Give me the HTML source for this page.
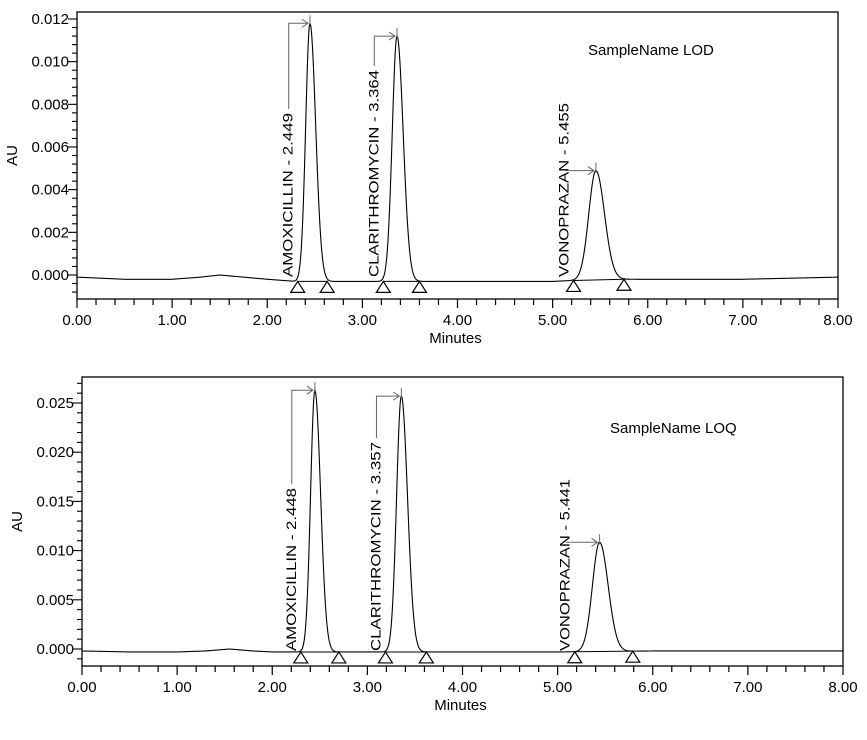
<!DOCTYPE html>
<html><head><meta charset="utf-8"><style>
html,body{margin:0;padding:0;background:#fff;}
svg{display:block;font-family:"Liberation Sans",Arial,sans-serif;}
</style></head><body>
<svg id="svg" width="867" height="740" viewBox="0 0 867 740"></svg>
<script>
// ---- Data: top chart (LOD) ----
const lodPeakNames = ["AMOXICILLIN - 2.449", "CLARITHROMYCIN - 3.364", "VONOPRAZAN - 5.455"];
const lodPeakTimes = [2.449, 3.364, 5.455];
const lodPeakHeights = [0.0121, 0.0115, 0.0051];
const lodPeakSigmaL = [0.045, 0.05, 0.075];
const lodPeakSigmaR = [0.06, 0.065, 0.09];
const lodPeakStart = [2.32, 3.22, 5.22];
const lodPeakEnd = [2.63, 3.60, 5.75];
const lodBaseTimes = [0, 0.5, 1.0, 1.3, 1.5, 1.75, 2.0, 2.3, 3.0, 3.5, 4.0, 4.5, 5.0, 5.5, 6.0, 7.0, 8.0];
const lodBaseValues = [-0.0001, -0.0002, -0.0002, -0.0001, 0.0, -0.0001, -0.0002, -0.0003, -0.0003, -0.0003, -0.0003, -0.0003, -0.0003, -0.0002, -0.0002, -0.0002, -0.0001];
const lodYTicks = [0.000, 0.002, 0.004, 0.006, 0.008, 0.010, 0.012];
const lodYTickLabels = ["0.000", "0.002", "0.004", "0.006", "0.008", "0.010", "0.012"];
// ---- Data: bottom chart (LOQ) ----
const loqPeakNames = ["AMOXICILLIN - 2.448", "CLARITHROMYCIN - 3.357", "VONOPRAZAN - 5.441"];
const loqPeakTimes = [2.448, 3.357, 5.441];
const loqPeakHeights = [0.0266, 0.0260, 0.0111];
const loqPeakSigmaL = [0.045, 0.05, 0.075];
const loqPeakSigmaR = [0.06, 0.065, 0.09];
const loqPeakStart = [2.30, 3.19, 5.18];
const loqPeakEnd = [2.70, 3.62, 5.79];
const loqBaseTimes = [0, 0.5, 1.0, 1.3, 1.55, 1.8, 2.0, 3.0, 4.0, 5.0, 6.0, 7.0, 8.0];
const loqBaseValues = [-0.0002, -0.0003, -0.0003, -0.0002, 0.0, -0.0002, -0.0003, -0.0003, -0.0003, -0.0003, -0.0002, -0.0002, -0.0002];
const loqYTicks = [0.000, 0.005, 0.010, 0.015, 0.020, 0.025];
const loqYTickLabels = ["0.000", "0.005", "0.010", "0.015", "0.020", "0.025"];
const xTicks = [0, 1, 2, 3, 4, 5, 6, 7, 8];
const xTickLabels = ["0.00", "1.00", "2.00", "3.00", "4.00", "5.00", "6.00", "7.00", "8.00"];

const NS = "http://www.w3.org/2000/svg";
const svg = document.getElementById("svg");
function mk(tag, attrs, parent) {
  const e = document.createElementNS(NS, tag);
  for (const k in attrs) e.setAttribute(k, attrs[k]);
  (parent || svg).appendChild(e);
  return e;
}
function interp(ts, vs, t) {
  if (t <= ts[0]) return vs[0];
  for (let i = 1; i < ts.length; i++) if (t <= ts[i]) {
    const f = (t - ts[i-1]) / (ts[i] - ts[i-1]);
    return vs[i-1] + f * (vs[i] - vs[i-1]);
  }
  return vs[vs.length-1];
}

function drawChart(c) {
  const g = mk("g", {});
  
  
  const xS = t => c.x0 + (t / 8) * (c.x1 - c.x0);
  const yS = v => c.yZero - v * c.pxPerUnit;
  const fr = mk("rect", {x: c.x0, y: c.top, width: c.x1 - c.x0, height: c.bottom - c.top, fill: "none", stroke: "#000", "stroke-width": 1.3}, g);
  
  
  for (let m = 0; m <= 40; m++) {
    const t = m * 0.2, x = xS(t), major = m % 5 === 0;
    mk("line", {x1: x, x2: x, y1: c.bottom, y2: c.bottom + (major ? 9 : 6), stroke: "#000", "stroke-width": 1.2}, g);
  }
  xTicks.forEach((t, i) => {
    const tx = mk("text", {x: xS(t), y: c.bottom + 26, "text-anchor": "middle", "font-size": 15}, g);
    tx.textContent = xTickLabels[i];
    
    
  });
  const step = c.yTicks[1] - c.yTicks[0], minor = step / 5;
  const vmin = (c.yZero - c.bottom) / c.pxPerUnit, vmax = (c.yZero - c.top) / c.pxPerUnit;
  for (let k = Math.ceil(vmin / minor); k * minor <= vmax; k++) {
    const y = yS(k * minor);
    const maj = Math.abs(Math.round(k) % 5) === 0;
    mk("line", {x1: c.x0 - (maj ? 9 : 5), x2: c.x0, y1: y, y2: y, stroke: "#000", "stroke-width": 1.1}, g);
  }
  c.yTicks.forEach((v, i) => {
    const tx = mk("text", {x: c.x0 - 8, y: yS(v) + 5, "text-anchor": "end", "font-size": 15}, g);
    tx.textContent = c.yLabels[i];
    
    
  });
  const yt = mk("text", {x: 0, y: 0, "text-anchor": "middle", "font-size": 15, transform: `translate(${c.x0 - 60},${(c.top + c.bottom) / 2}) rotate(-90)`}, g);
  yt.textContent = "AU";
  
  
  const xt = mk("text", {x: (c.x0 + c.x1) / 2 - 2, y: c.bottom + 44, "text-anchor": "middle", "font-size": 15}, g);
  xt.textContent = "Minutes";
  
  
  const sn = mk("text", {x: c.sampleX, y: c.sampleY, "font-size": 15}, g);
  sn.textContent = c.sample;
  
  
  let d = "";
  for (let i = 0; i <= 1600; i++) {
    const t = i * 0.005;
    let v = interp(c.baseT, c.baseV, t);
    for (let p = 0; p < c.times.length; p++) {
      const s = t < c.times[p] ? c.sL[p] : c.sR[p];
      v += c.heights[p] * Math.exp(-0.5 * Math.pow((t - c.times[p]) / s, 2));
    }
    d += (i ? "L" : "M") + xS(t).toFixed(2) + " " + yS(v).toFixed(2);
  }
  const tr = mk("path", {d, fill: "none", stroke: "#000", "stroke-width": 1.1}, g);
  
  
  c.times.forEach((rt, p) => {
    const ya = yS(interp(c.baseT, c.baseV, c.start[p]));
    const yb = yS(interp(c.baseT, c.baseV, c.end[p]));
    const bl = mk("line", {x1: xS(c.start[p]), y1: ya, x2: xS(c.end[p]), y2: yb, stroke: "#000", "stroke-width": 1}, g);
    
    
    [[c.start[p], ya], [c.end[p], yb]].forEach(([t, y]) => {
      const x = xS(t);
      const tri = mk("polygon", {points: `${x},${y} ${x - 7},${y + 11} ${x + 7},${y + 11}`, fill: "#fff", stroke: "#000", "stroke-width": 1.2}, g);
      
      
    });
    const px = xS(rt), py = yS(c.heights[p] + interp(c.baseT, c.baseV, rt));
    const lx = xS(c.start[p]) - 10;
    const ly = yS(0) + 2;
    const lbl = mk("text", {x: 0, y: 0, "font-size": 14, transform: `translate(${lx + 5},${ly}) rotate(-90)`, textLength: c.lblLen[p], lengthAdjust: "spacingAndGlyphs"}, g);
    lbl.textContent = c.names[p];
    
    
    const textTop = ly - c.lblLen[p] - 4;
    const lead = mk("path", {d: `M${lx + 1} ${Math.max(textTop, py)} L${lx + 1} ${py} L${px - 2} ${py} M${px - 8} ${py - 4} L${px - 2} ${py} L${px - 8} ${py + 4} M${px} ${py - 8} L${px} ${py + 2}`, fill: "none", stroke: "#666", "stroke-width": 1}, g);
    
    
  });
}

drawChart({name: "lod-chart", x0: 77, x1: 838, top: 12, bottom: 299, yZero: 275, pxPerUnit: 256 / 0.012,
  yTicks: lodYTicks, yLabels: lodYTickLabels, times: lodPeakTimes, heights: lodPeakHeights, sL: lodPeakSigmaL, sR: lodPeakSigmaR,
  start: lodPeakStart, end: lodPeakEnd, baseT: lodBaseTimes, baseV: lodBaseValues, names: lodPeakNames,
  lblLen: [164, 207, 174], sample: "SampleName LOD", sampleX: 588, sampleY: 55});
drawChart({name: "loq-chart", x0: 82, x1: 843, top: 377, bottom: 666, yZero: 649, pxPerUnit: 246 / 0.025,
  yTicks: loqYTicks, yLabels: loqYTickLabels, times: loqPeakTimes, heights: loqPeakHeights, sL: loqPeakSigmaL, sR: loqPeakSigmaR,
  start: loqPeakStart, end: loqPeakEnd, baseT: loqBaseTimes, baseV: loqBaseValues, names: loqPeakNames,
  lblLen: [163, 209, 172], sample: "SampleName LOQ", sampleX: 610, sampleY: 433});
</script>
</body></html>
